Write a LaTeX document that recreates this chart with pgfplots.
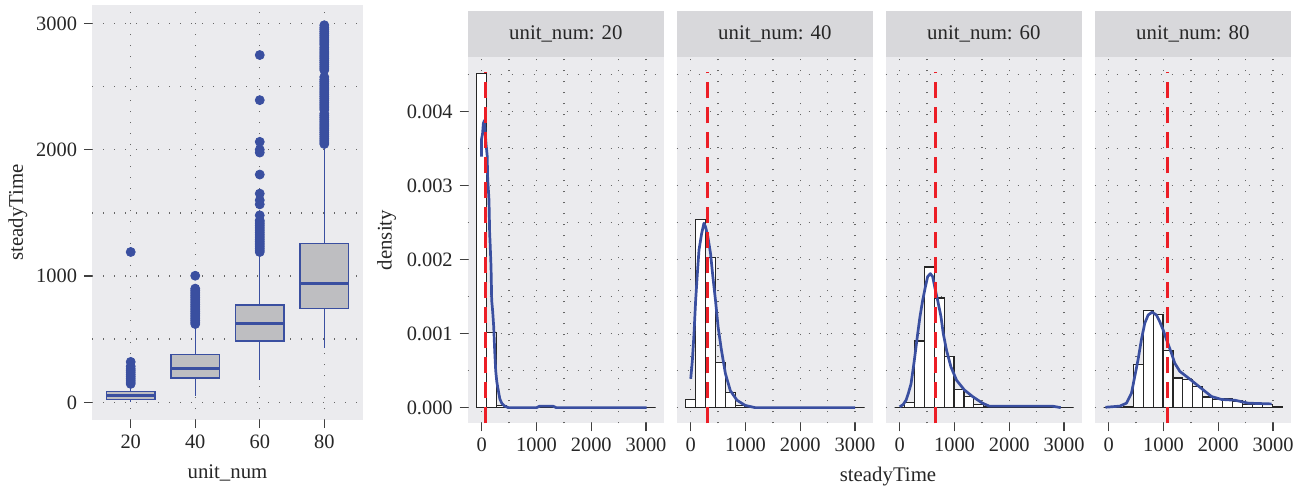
\documentclass[border=0pt]{standalone}
\usepackage{fontspec}
\setmainfont{Liberation Serif}
\usepackage{pgfplots}
\pgfplotsset{compat=1.18}
\usepgfplotslibrary{statistics}

\definecolor{panelbg}{RGB}{235,235,238}
\definecolor{stripbg}{RGB}{216,216,219}
\definecolor{bblue}{RGB}{58,79,160}
\definecolor{boxfill}{RGB}{190,190,193}
\definecolor{mred}{RGB}{236,30,38}

\pgfplotsset{
  base/.style={
    scale only axis,
    axis background/.style={fill=panelbg},
    axis line style={draw=none},
    tick align=outside,
    xtick pos=left, ytick pos=left,
    major tick length=4bp,
    minor tick length=0pt,
    tick style={black!75, line width=0.6bp},
    grid=both,
    major grid style={black!60, line width=0.7bp, dash pattern=on 0.7bp off 4.8bp},
    minor grid style={black!60, line width=0.7bp, dash pattern=on 0.7bp off 4.8bp},
    /pgf/number format/assume math mode=true,
    /pgf/number format/1000 sep={},
    tick label style={font=\fontsize{10.2bp}{12bp}\selectfont, text=black!85},
    label style={font=\fontsize{10.4bp}{12bp}\selectfont, text=black!85},
  },
  facet/.style={
    base,
    anchor=north west,
    width=98.15bp, height=183.3bp,
    xmin=-256, xmax=3328,
    ymin=-0.000212, ymax=0.00474,
    xtick={0,1000,2000,3000},
    minor xtick={500,1500,2500},
    ytick={0,0.001,0.002,0.003,0.004},
    minor ytick={0.0005,0.0015,0.0025,0.0035,0.0045},
    scaled y ticks=false,
    yticklabel style={/pgf/number format/fixed, /pgf/number format/fixed zerofill, /pgf/number format/precision=3},
  },
  noy/.style={yticklabel style={/tikz/opacity=0}, ytick style={/tikz/draw=none}},
  hist/.style={ybar interval, fill=white, draw=black!85, line width=0.6bp},
  dens/.style={bblue, line width=1.35bp, no marks, line join=round},
  vmean/.style={mred, line width=1.5bp, dash pattern=on 8bp off 4.5bp},
}

\begin{document}
\begin{tikzpicture}
\useasboundingbox (0,0) rectangle (655bp,-245.5bp);

% ---------------- Box plot ----------------
\begin{axis}[base,
  at={(46bp,-2.5bp)}, anchor=north west,
  width=135.5bp, height=207.5bp,
  xmin=0.4, xmax=4.6, ymin=-140, ymax=3145,
  xtick={1,2,3,4}, xticklabels={20,40,60,80},
  ytick={0,1000,2000,3000}, minor ytick={500,1500,2500},
  xlabel={unit\_num}, ylabel={steadyTime},
  xlabel style={at={(axis description cs:0.5,-0.1287)}, anchor=center},
  ylabel style={at={(axis description cs:-0.2731,0.5)}, anchor=center},
  boxplot/draw direction=y,
  boxplot/box extend=0.75,
  boxplot/whisker extend=0,
  boxplot/every box/.style={draw=bblue, fill=boxfill, line width=0.75bp},
  boxplot/every whisker/.style={draw=bblue, line width=0.65bp},
  boxplot/every median/.style={draw=bblue, line width=1.4bp},
]
\addplot[boxplot prepared={draw position=1, lower whisker=2, lower quartile=24, median=56, upper quartile=87, upper whisker=125}] coordinates {};
\addplot[boxplot prepared={draw position=2, lower whisker=48, lower quartile=193, median=270, upper quartile=378, upper whisker=608}] coordinates {};
\addplot[boxplot prepared={draw position=3, lower whisker=180, lower quartile=484, median=621, upper quartile=772, upper whisker=1180}] coordinates {};
\addplot[boxplot prepared={draw position=4, lower whisker=431, lower quartile=743, median=941, upper quartile=1258, upper whisker=2035}] coordinates {};
% outliers
\addplot[only marks, mark=*, mark size=2.25bp, bblue, mark options={draw=bblue, fill=bblue}] coordinates {
(1,146) (1,160) (1,175) (1,190) (1,205) (1,220) (1,235) (1,250) (1,265) (1,285) (1,320) (1,1190)
(2,620) (2,634) (2,648) (2,662) (2,676) (2,690) (2,704) (2,718) (2,732) (2,746) (2,760) (2,774) (2,788) (2,802) (2,816) (2,830) (2,844) (2,858) (2,872) (2,886) (2,900) (2,1002)
(3,1190) (3,1204) (3,1218) (3,1232) (3,1246) (3,1260) (3,1274) (3,1288) (3,1302) (3,1316) (3,1330) (3,1344) (3,1358) (3,1372) (3,1386) (3,1400) (3,1414) (3,1428) (3,1440) (3,1480) (3,1567) (3,1600) (3,1652) (3,1803) (3,1977) (3,2000) (3,2062) (3,2392) (3,2749)
(4,2045) (4,2060) (4,2075) (4,2090) (4,2105) (4,2120) (4,2135) (4,2150) (4,2165) (4,2180) (4,2195) (4,2210) (4,2225) (4,2240) (4,2255) (4,2270) (4,2285)
(4,2315) (4,2330) (4,2345) (4,2360) (4,2375) (4,2390) (4,2405) (4,2420) (4,2435) (4,2450) (4,2465) (4,2480) (4,2495) (4,2510) (4,2525) (4,2540) (4,2555) (4,2575)
(4,2630) (4,2645) (4,2660) (4,2675) (4,2690) (4,2705) (4,2720) (4,2735) (4,2750) (4,2765) (4,2780) (4,2795) (4,2810) (4,2830) (4,2845) (4,2860) (4,2875) (4,2890) (4,2905) (4,2920) (4,2935) (4,2950) (4,2965) (4,2985)
};
\end{axis}

% ---------------- strips ----------------
\foreach \k/\lab in {0/20,1/40,2/60,3/80}{
  \fill[stripbg] ({233.85bp+104.5bp*\k},-5.5bp) rectangle ++(98.15bp,-22.85bp);
  \node[font=\fontsize{10.4bp}{12bp}\selectfont, text=black!85, anchor=center]
    at ({233.85bp+104.5bp*\k+49.075bp},-17bp) {unit\_num: \lab};
}

% ---------------- facet 20 ----------------
\begin{axis}[facet, at={(233.85bp,-28.35bp)},
  ylabel={density},
  ylabel style={at={(axis description cs:-0.4126,0.5)}, anchor=center}]
\addplot[hist] coordinates {(-94,0.00451) (87,0.00102) (268,0.00003) (449,0) (630,0) (811,0) (992,0) (1173,0.000006) (1354,0) (1535,0) (1716,0) (1897,0) (2078,0) (2259,0) (2440,0) (2621,0) (2802,0) (2983,0) (3164,0)};
\addplot[dens] coordinates {(-5,0.00339) (-5,0.00362) (15,0.0037) (30,0.00384) (50,0.00388) (65,0.0037) (78,0.00357) (100,0.0034) (109,0.00308) (125,0.0029) (133,0.0028) (145,0.00235) (151,0.00226) (170,0.0019) (182,0.00145) (200,0.0013) (219,0.00109) (235,0.0008) (255,0.0005) (275,0.00035) (303,0.00023) (330,0.00012) (365,0.00006) (420,0.00002) (485,0) (1000,0) (1060,0.00002) (1300,0.00002) (1360,0) (3011,0)};
\addplot[vmean] coordinates {(73,-0.000212) (73,0.00454)};
\end{axis}

% ---------------- facet 40 ----------------
\begin{axis}[facet, noy, at={(338.35bp,-28.35bp)}]
\addplot[hist] coordinates {(-94,0.000115) (87,0.00254) (268,0.00203) (449,0.00061) (630,0.0002) (811,0.00003) (992,0.000006) (1173,0) (1354,0) (1535,0) (1716,0) (1897,0) (2078,0) (2259,0) (2440,0) (2621,0) (2802,0) (2983,0) (3164,0)};
\addplot[dens] coordinates {(0,0.00039) (30,0.00064) (60,0.001) (90,0.00145) (121,0.00181) (151,0.00213) (199,0.00235) (241,0.00249) (271,0.00244) (313,0.00231) (362,0.00208) (404,0.00177) (452,0.00145) (500,0.00109) (560,0.00078) (633,0.00046) (723,0.00023) (844,0.0001) (995,0.00003) (1175,0) (3000,0)};
\addplot[vmean] coordinates {(310,-0.000212) (310,0.00454)};
\end{axis}

% ---------------- facet 60 ----------------
\begin{axis}[facet, noy, at={(442.85bp,-28.35bp)}]
\addplot[hist] coordinates {(-94,0) (87,0.00007) (268,0.0009) (449,0.0019) (630,0.00148) (811,0.00069) (992,0.00025) (1173,0.000145) (1354,0.00004) (1535,0.00001) (1716,0.000005) (1897,0.000005) (2078,0.000005) (2259,0.000005) (2440,0.000005) (2621,0.000005) (2802,0.000005) (2983,0) (3164,0)};
\addplot[dens] coordinates {(0,0.00001) (60,0.00004) (115,0.0001) (160,0.0002) (206,0.00032) (267,0.00064) (328,0.001) (370,0.00123) (419,0.00145) (468,0.00163) (510,0.00177) (559,0.00181) (601,0.00177) (650,0.00159) (692,0.00145) (753,0.00123) (795,0.001) (856,0.00077) (935,0.00055) (1038,0.00037) (1178,0.00024) (1330,0.00015) (1512,0.00006) (1633,0.00002) (2787,0.00002) (2939,0)};
\addplot[vmean] coordinates {(662,-0.000212) (662,0.00454)};
\end{axis}

% ---------------- facet 80 ----------------
\begin{axis}[facet, noy, at={(547.35bp,-28.35bp)}]
\addplot[hist] coordinates {(-94,0) (87,0) (268,0.00001) (449,0.00058) (630,0.00131) (811,0.00126) (992,0.00077) (1173,0.0004) (1354,0.00038) (1535,0.00028) (1716,0.000143) (1897,0.000108) (2078,0.000126) (2259,0.00009) (2440,0.000045) (2621,0.00004) (2802,0.00004) (2983,0.000018) (3164,0)};
\addplot[dens] coordinates {(-60,0.000005) (201,0.00002) (323,0.00006) (415,0.000195) (475,0.00042) (536,0.00065) (597,0.00092) (658,0.00114) (719,0.00125) (792,0.00129) (871,0.00125) (932,0.00116) (993,0.00105) (1054,0.00092) (1133,0.00076) (1206,0.0006) (1298,0.00049) (1420,0.00042) (1572,0.00033) (1725,0.00024) (1877,0.00015) (2060,0.00011) (2303,0.0001) (2547,0.00006) (2974,0.00005)};
\addplot[vmean] coordinates {(1075,-0.000212) (1075,0.00454)};
\end{axis}

\node[font=\fontsize{10.4bp}{12bp}\selectfont, text=black!85, anchor=center] at (444bp,-238.5bp) {steadyTime};
\end{tikzpicture}
\end{document}
